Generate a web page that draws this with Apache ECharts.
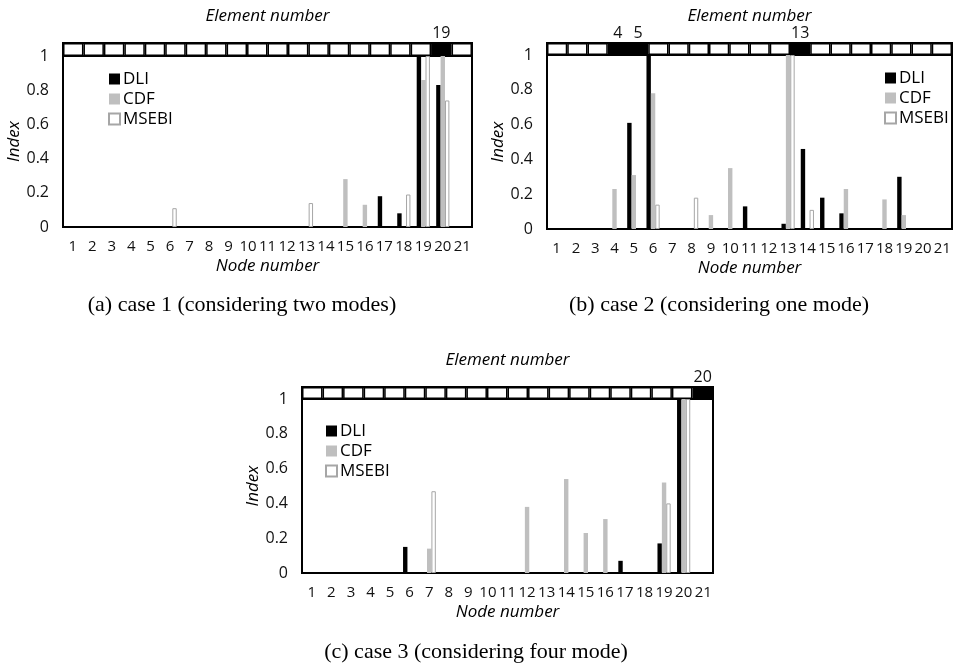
<!DOCTYPE html>
<html>
<head>
<meta charset="utf-8">
<script src="https://cdn.jsdelivr.net/npm/echarts@6/dist/echarts.min.js"></script>
<style>
  html, body { margin: 0; padding: 0; background: #fff; }
  #chart { width: 956px; height: 667px; }
</style>
</head>
<body>
<div id="chart"></div>
<script>
// node / element labels
var nodes = []
for (var n = 1; n <= 21; n++) nodes.push(String(n))
var elements = []
for (var e = 1; e <= 20; e++) elements.push(String(e))

var yTicks = [0, 0.2, 0.4, 0.6, 0.8, 1]

// case 1 (two modes)
var dliA = [0, 0, 0, 0, 0, 0, 0, 0, 0, 0, 0, 0, 0, 0, 0, 0, 0.18, 0.08, 1, 0.83, 0]
var cdfA = [0, 0, 0, 0, 0, 0, 0, 0, 0, 0, 0, 0, 0, 0, 0.28, 0.13, 0, 0, 0.86, 1, 0]
var msebiA = [0, 0, 0, 0, 0, 0.11, 0, 0, 0, 0, 0, 0, 0.14, 0, 0, 0, 0, 0.19, 1, 0.74, 0]
var damagedA = [19]

// case 2 (one mode)
var dliB = [0, 0, 0, 0, 0.61, 1, 0, 0, 0, 0, 0.13, 0, 0.03, 0.46, 0.18, 0.09, 0, 0, 0.3, 0, 0]
var cdfB = [0, 0, 0, 0.23, 0.31, 0.78, 0, 0, 0.08, 0.35, 0, 0, 1, 0, 0, 0.23, 0, 0.17, 0.08, 0, 0]
var msebiB = [0, 0, 0, 0, 0, 0.14, 0, 0.18, 0, 0, 0, 0, 1, 0.11, 0, 0, 0, 0, 0, 0, 0]
var damagedB = [4, 5, 13]

// case 3 (four modes)
var dliC = [0, 0, 0, 0, 0, 0.15, 0, 0, 0, 0, 0, 0, 0, 0, 0, 0, 0.07, 0, 0.17, 1, 0]
var cdfC = [0, 0, 0, 0, 0, 0, 0.14, 0, 0, 0, 0, 0.38, 0, 0.54, 0.23, 0.31, 0, 0, 0.52, 1, 0]
var msebiC = [0, 0, 0, 0, 0, 0, 0.47, 0, 0, 0, 0, 0, 0, 0, 0, 0, 0, 0, 0.4, 1, 0]
var damagedC = [20]

var captions = [
  '(a) case 1 (considering two modes)',
  '(b) case 2 (considering one mode)',
  '(c) case 3 (considering four mode)'
]

var sans = '"Open Sans", "Noto Sans", sans-serif'

// panel boxes (plot area) + strip + legend + caption spots
var panels = [
  { dli: dliA, cdf: cdfA, msebi: msebiA, damaged: damagedA,
    left: 63, width: 409, top: 56, height: 171, stripTop: 43,
    legend: [103, 65], caption: [242, 305] },
  { dli: dliB, cdf: cdfB, msebi: msebiB, damaged: damagedB,
    left: 547, width: 405, top: 55, height: 174, stripTop: 43,
    legend: [879, 64], caption: [719, 305] },
  { dli: dliC, cdf: cdfC, msebi: msebiC, damaged: damagedC,
    left: 302, width: 411, top: 399, height: 174, stripTop: 387,
    legend: [320, 417], caption: [476, 652] }
]

function noZero(arr) {
  return arr.map(function (v) { return v === 0 ? null : v })
}

var grid = [], xAxis = [], yAxis = [], series = [], legend = [], graphic = []

panels.forEach(function (p, i) {
  var gi = i * 2
  grid.push({
    left: p.left, top: p.top, width: p.width, height: p.height,
    show: true, borderColor: '#000', borderWidth: 2, backgroundColor: 'transparent'
  })
  grid.push({
    left: p.left, top: p.stripTop, width: p.width, height: p.top - p.stripTop,
    show: true, borderColor: '#000', borderWidth: 2, backgroundColor: 'transparent'
  })

  xAxis.push({
    type: 'category', gridIndex: gi, data: nodes,
    name: 'Node number', nameLocation: 'middle', nameGap: 31,
    nameTextStyle: { fontFamily: sans, fontSize: 17, fontStyle: 'italic', color: '#000' },
    axisLine: { show: false }, axisTick: { show: false },
    axisLabel: { fontFamily: sans, fontSize: 15, color: '#111', margin: 12, interval: 0 }
  })
  xAxis.push({
    type: 'category', gridIndex: gi + 1, data: elements, position: 'top',
    name: 'Element number', nameLocation: 'middle', nameGap: 18,
    nameTextStyle: { fontFamily: sans, fontSize: 17, fontStyle: 'italic', color: '#000' },
    axisLine: { show: false }, axisTick: { show: false }, axisLabel: { show: false }
  })
  yAxis.push({
    type: 'value', gridIndex: gi, min: 0, max: 1, interval: 0.2,
    name: 'Index', nameLocation: 'middle', nameGap: 39, nameRotate: 90,
    nameTextStyle: { fontFamily: sans, fontSize: 17, fontStyle: 'italic', color: '#000' },
    axisLine: { show: false }, axisTick: { show: false }, splitLine: { show: false },
    axisLabel: {
      fontFamily: sans, fontSize: 16, color: '#111', margin: 14,
      formatter: function (v) { return yTicks.indexOf(v) >= 0 ? String(v) : '' }
    }
  })
  yAxis.push({
    type: 'value', gridIndex: gi + 1, min: 0, max: 1, show: false
  })

  var common = { type: 'bar', xAxisIndex: gi, yAxisIndex: gi, barWidth: 4.4, barGap: '0%', silent: true }
  series.push(Object.assign({}, common, {
    name: 'DLI', data: noZero(p.dli), itemStyle: { color: '#000' }
  }))
  series.push(Object.assign({}, common, {
    name: 'CDF', data: noZero(p.cdf), itemStyle: { color: '#bfbfbf' }
  }))
  series.push(Object.assign({}, common, {
    name: 'MSEBI', data: noZero(p.msebi),
    itemStyle: { color: '#fff', borderColor: '#a6a6a6', borderWidth: 1 }
  }))

  // element strip on top
  series.push({
    type: 'bar', xAxisIndex: gi + 1, yAxisIndex: gi + 1, silent: true,
    barCategoryGap: '0%',
    data: elements.map(function (el) {
      var hit = p.damaged.indexOf(Number(el)) >= 0
      return {
        value: 1,
        itemStyle: { color: hit ? '#000' : '#fff', borderColor: '#000', borderWidth: 1.5 },
        label: {
          show: hit, position: 'top', distance: 2, formatter: el,
          fontFamily: sans, fontSize: 16, color: '#111'
        }
      }
    })
  })

  legend.push({
    left: p.legend[0], top: p.legend[1], orient: 'vertical',
    itemWidth: 11, itemHeight: 11, itemGap: 2, icon: 'rect',
    selectedMode: false,
    textStyle: { fontFamily: sans, fontSize: 17, color: '#000', lineHeight: 18, padding: [0, 0, 0, -2] },
    data: ['DLI', 'CDF', 'MSEBI']
  })

  graphic.push({
    type: 'text', x: p.caption[0], y: p.caption[1],
    style: {
      text: captions[i], textAlign: 'center', textVerticalAlign: 'middle',
      font: '22px "Liberation Serif", "DejaVu Serif", serif', fill: '#000'
    }
  })
})

var chart = echarts.init(document.getElementById('chart'))
chart.setOption({
  backgroundColor: '#fff',
  animation: false,
  grid: grid,
  xAxis: xAxis,
  yAxis: yAxis,
  legend: legend,
  series: series,
  graphic: graphic
})
</script>
</body>
</html>
